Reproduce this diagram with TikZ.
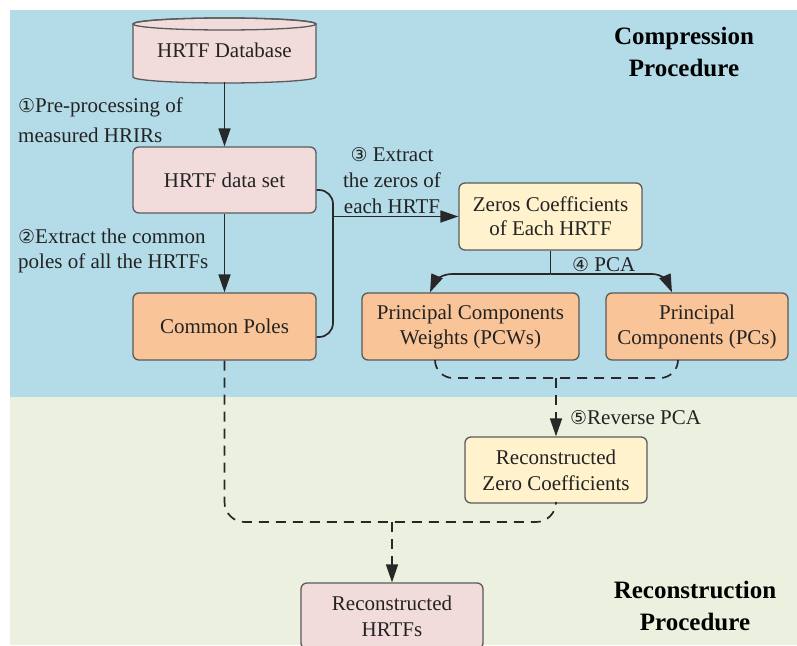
\documentclass[tikz,border=0pt]{standalone}
\usepackage{fontspec}
\setmainfont{Liberation Serif}
\newfontfamily\circf{DejaVu Sans}
\usetikzlibrary{arrows.meta,calc}
\definecolor{bluebg}{RGB}{180,220,232}
\definecolor{greenbg}{RGB}{235,241,222}
\definecolor{pinkc}{RGB}{242,220,219}
\definecolor{orangec}{RGB}{249,196,152}
\definecolor{yellowc}{RGB}{255,242,204}
\definecolor{edgec}{RGB}{90,90,90}
\definecolor{linec}{RGB}{40,40,40}
\definecolor{txtc}{RGB}{35,35,35}
\newcommand{\cd}[1]{{\circf\fontsize{19}{20}\selectfont #1}}
\begin{document}
\begin{tikzpicture}[x=1pt,y=-1pt,
  box/.style={draw=edgec,line width=1.3pt,rounded corners=6pt,minimum height=67pt,inner sep=0pt,align=center,text=txtc,font=\fontsize{21}{25}\selectfont},
  conn/.style={draw=linec,line width=1.7pt},
  tipc/.style={-{Triangle[length=18pt,width=12pt]}},
  dsh/.style={conn,dash pattern=on 10pt off 7pt},
  lbl/.style={text=txtc,font=\fontsize{21}{25}\selectfont,inner sep=0pt},
  headtxt/.style={text=black,font=\fontsize{25}{32}\selectfont\bfseries,align=center,inner sep=0pt}]
\path[use as bounding box] (0,0) rectangle (797,645);
\clip (0,0) rectangle (797,645);
% backgrounds
\fill[bluebg] (10,10) rectangle (797,397);
\fill[greenbg] (10,397) rectangle (797,645);
% database cylinder
\filldraw[fill=pinkc,draw=edgec,line width=1.3pt] (133,24) -- (133,77)
  arc[start angle=180,end angle=360,x radius=91.5pt,y radius=6pt] -- (316,24)
  arc[start angle=0,end angle=180,x radius=91.5pt,y radius=6pt] -- cycle;
\draw[draw=edgec,line width=1.3pt] (224.5,24) ellipse [x radius=91.5pt,y radius=6pt];
\node[inner sep=0pt,text=txtc,font=\fontsize{21}{25}\selectfont,minimum width=183pt,minimum height=53pt] (db) at (224.5,50.5) {HRTF Database};
% boxes
\node[box,fill=pinkc,minimum width=183pt,minimum height=66pt] (ds) at (224.5,180) {HRTF data set};
\node[box,fill=orangec,minimum width=183pt] (cp) at (224.5,326.5) {Common Poles};
\node[box,fill=yellowc,minimum width=183pt,font=\fontsize{21}{24}\selectfont] (zeros) at (550.5,216.5) {Zeros Coefficients\\of Each HRTF};
\node[box,fill=orangec,minimum width=217pt] (pcw) at (470.5,326.5) {Principal Components\\Weights (PCWs)};
\node[box,fill=orangec,minimum width=182pt] (pc) at (697,326.5) {Principal\\Components (PCs)};
\node[box,fill=yellowc,minimum width=182pt,minimum height=66pt,font=\fontsize{21}{26}\selectfont] (rzc) at (556,470) {Reconstructed\\Zero Coefficients};
\node[box,fill=pinkc,minimum width=182pt,minimum height=66pt,font=\fontsize{21}{26}\selectfont] (rh) at (392,616) {Reconstructed\\HRTFs};
% labels
\node[lbl,anchor=west,align=left] (l1) at (18,120) {\cd{①}Pre-processing of\\[5pt]measured HRIRs};
\node[lbl,anchor=west,align=left] (l2) at (18,250.5) {\cd{②}Extract the common\\poles of all the HRTFs};
\node[lbl,align=center,font=\fontsize{21}{26}\selectfont] (l3) at (392,181) {\cd{③} Extract\\the zeros of\\each HRTF};
\node[lbl,anchor=west] (l4) at (572,265) {\cd{④} PCA};
\node[lbl,anchor=west] (l5) at (570,418) {\cd{⑤}Reverse PCA};
\node[headtxt] (t1) at (684,51.5) {Compression\\Procedure};
\node[headtxt] (t2) at (695,606) {Reconstruction\\Procedure};
% connectors
\draw[conn,tipc] (db.south |- 0,82) -- (ds.north);
\draw[conn,tipc] (ds.south) -- (cp.north);
\draw[conn,rounded corners=14pt] ([yshift=-10pt]ds.east) -- (333,190) -- (333,337) -- ([yshift=-10.5pt]cp.east);
\draw[conn,tipc] (zeros.west -| 333,0) -- (zeros.west);
\draw[conn] (zeros.south) -- (550.5,274);
\draw[conn,tipc] (550.5,274) -- (452,274) .. controls (440,274) and (434,283) .. ([xshift=-40.5pt]pcw.north);
\draw[conn,tipc] (550.5,274) -- (652,274) .. controls (663,274) and (668,283) .. ([xshift=-25pt]pc.north);
\draw[dsh,rounded corners=18pt] ([xshift=-35.5pt]pcw.south) -- (435,378) -- (678,378) -- ([xshift=-19pt]pc.south);
\draw[dsh,tipc] (rzc.north |- 0,378) -- (rzc.north);
\draw[dsh,rounded corners=20pt] (cp.south) -- (224.5,522) -- (556,522) -- (rzc.south);
\draw[dsh,tipc] (rh.north |- 0,522) -- (rh.north);
\end{tikzpicture}
\end{document}
